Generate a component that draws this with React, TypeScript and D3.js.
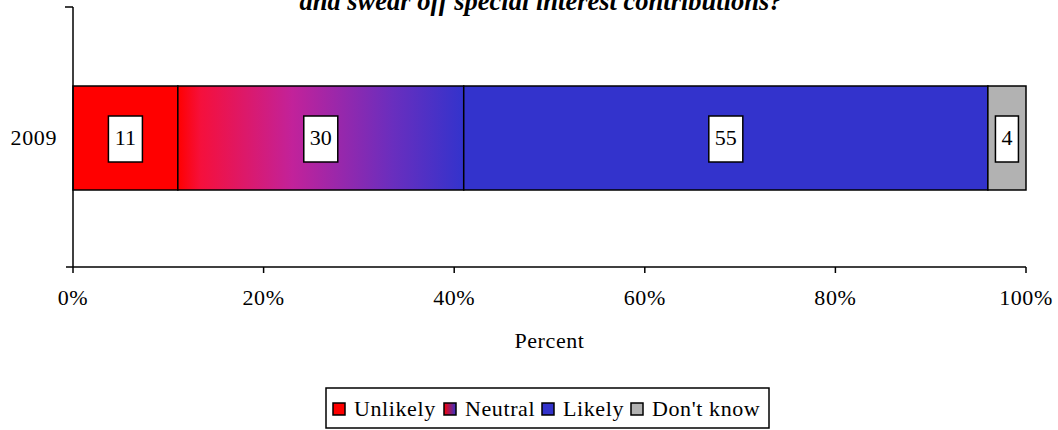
import React from "react";
import * as d3 from "d3";

const categories = ["2009"];
const seriesNames = ["Unlikely", "Neutral", "Likely", "Don't know"];
const values = [11, 30, 55, 4];
const xTicks = [0, 20, 40, 60, 80, 100];
const titleLines = ["and swear off special interest contributions?"];
const xTitle = "Percent";

const W = 1058, H = 430;
const margin = { left: 73, right: 32, top: 7, bottom: 163 };

export default function App() {
  const x = d3.scaleLinear().domain([0, 100]).range([margin.left, W - margin.right]);
  const y = d3.scaleBand().domain(categories).range([margin.top, H - margin.bottom]).paddingInner(0).paddingOuter(0.3);
  const font = "'Liberation Serif', 'Times New Roman', serif";
  const stack = d3.cumsum(values);
  const starts = values.map((v, i) => stack[i] - v);
  const fills = ["#FF0000", "url(#neutralGrad)", "#3333CC", "#B2B2B2"];
  const bandY0 = 86, bandH = 104;
  const yTop = margin.top, yBot = H - margin.bottom;
  const cy = 138;
  const legendX = [333, 444, 542, 631];
  const legendSw = ["#FF0000", "url(#legendGrad)", "#3333CC", "#B2B2B2"];
  const fs = 22;
  const ls = 0.6;
  return (
    <svg width={W} height={H} style={{ display: "block", position: "absolute", left: 0, top: 0 }} fontFamily={font}>
      <defs>
        <linearGradient id="neutralGrad" x1="0" x2="1" y1="0" y2="0">
          <stop offset="0" stopColor="#FF0000" />
          <stop offset="0.08" stopColor="#F5103C" />
          <stop offset="0.4" stopColor="#C2229A" />
          <stop offset="0.75" stopColor="#6A2EBE" />
          <stop offset="1" stopColor="#3333CC" />
        </linearGradient>
        <linearGradient id="legendGrad" x1="0" x2="1" y1="0" y2="0">
          <stop offset="0" stopColor="#FF0000" />
          <stop offset="1" stopColor="#3333CC" />
        </linearGradient>
      </defs>
      <rect width={W} height={H} fill="#fff" />
      {titleLines.map((t, i) => (
        <text key={i} x={541} y={10 + i * 28} textAnchor="middle" fontSize={26.5} fontWeight="bold" fontStyle="italic">{t}</text>
      ))}
      {values.map((v, i) => (
        <rect key={i} x={x(starts[i])} y={bandY0} width={x(stack[i]) - x(starts[i])} height={bandH}
          fill={fills[i]} stroke="#000" strokeWidth={1.5} />
      ))}
      {values.map((v, i) => {
        const cx = (x(starts[i]) + x(stack[i])) / 2;
        const bw = String(v).length * 11 + 12;
        return (
          <g key={i}>
            <rect x={cx - bw / 2} y={116} width={bw} height={46} fill="#fff" stroke="#000" strokeWidth={1.5} />
            <text x={cx} y={145} textAnchor="middle" fontSize={fs}>{v}</text>
          </g>
        );
      })}
      <line x1={margin.left} x2={margin.left} y1={yTop} y2={yBot} stroke="#000" strokeWidth={1.5} />
      <line x1={margin.left - 8} x2={margin.left} y1={yTop} y2={yTop} stroke="#000" strokeWidth={1.5} />
      <line x1={margin.left - 7} x2={x(100)} y1={yBot} y2={yBot} stroke="#000" strokeWidth={1.5} />
      {categories.map(c => (
        <text key={c} x={margin.left - 16} y={145} textAnchor="end" fontSize={fs} letterSpacing={ls}>{c}</text>
      ))}
      {xTicks.map(t => (
        <g key={t}>
          <line x1={x(t)} x2={x(t)} y1={yBot} y2={yBot + 6} stroke="#000" strokeWidth={1.5} />
          <text x={x(t)} y={305} textAnchor="middle" fontSize={fs} letterSpacing={ls}>{t + "%"}</text>
        </g>
      ))}
      <text x={(x(0) + x(100)) / 2} y={348} textAnchor="middle" fontSize={fs} letterSpacing={ls}>{xTitle}</text>
      <rect x={326} y={388} width={443} height={40} fill="#fff" stroke="#000" strokeWidth={1.5} />
      {seriesNames.map((n, i) => (
        <g key={n}>
          <rect x={legendX[i]} y={403} width={12} height={12} fill={legendSw[i]} stroke="#000" strokeWidth={1.5} />
          <text x={legendX[i] + 21} y={416} fontSize={fs} letterSpacing={ls}>{n}</text>
        </g>
      ))}
    </svg>
  );
}
